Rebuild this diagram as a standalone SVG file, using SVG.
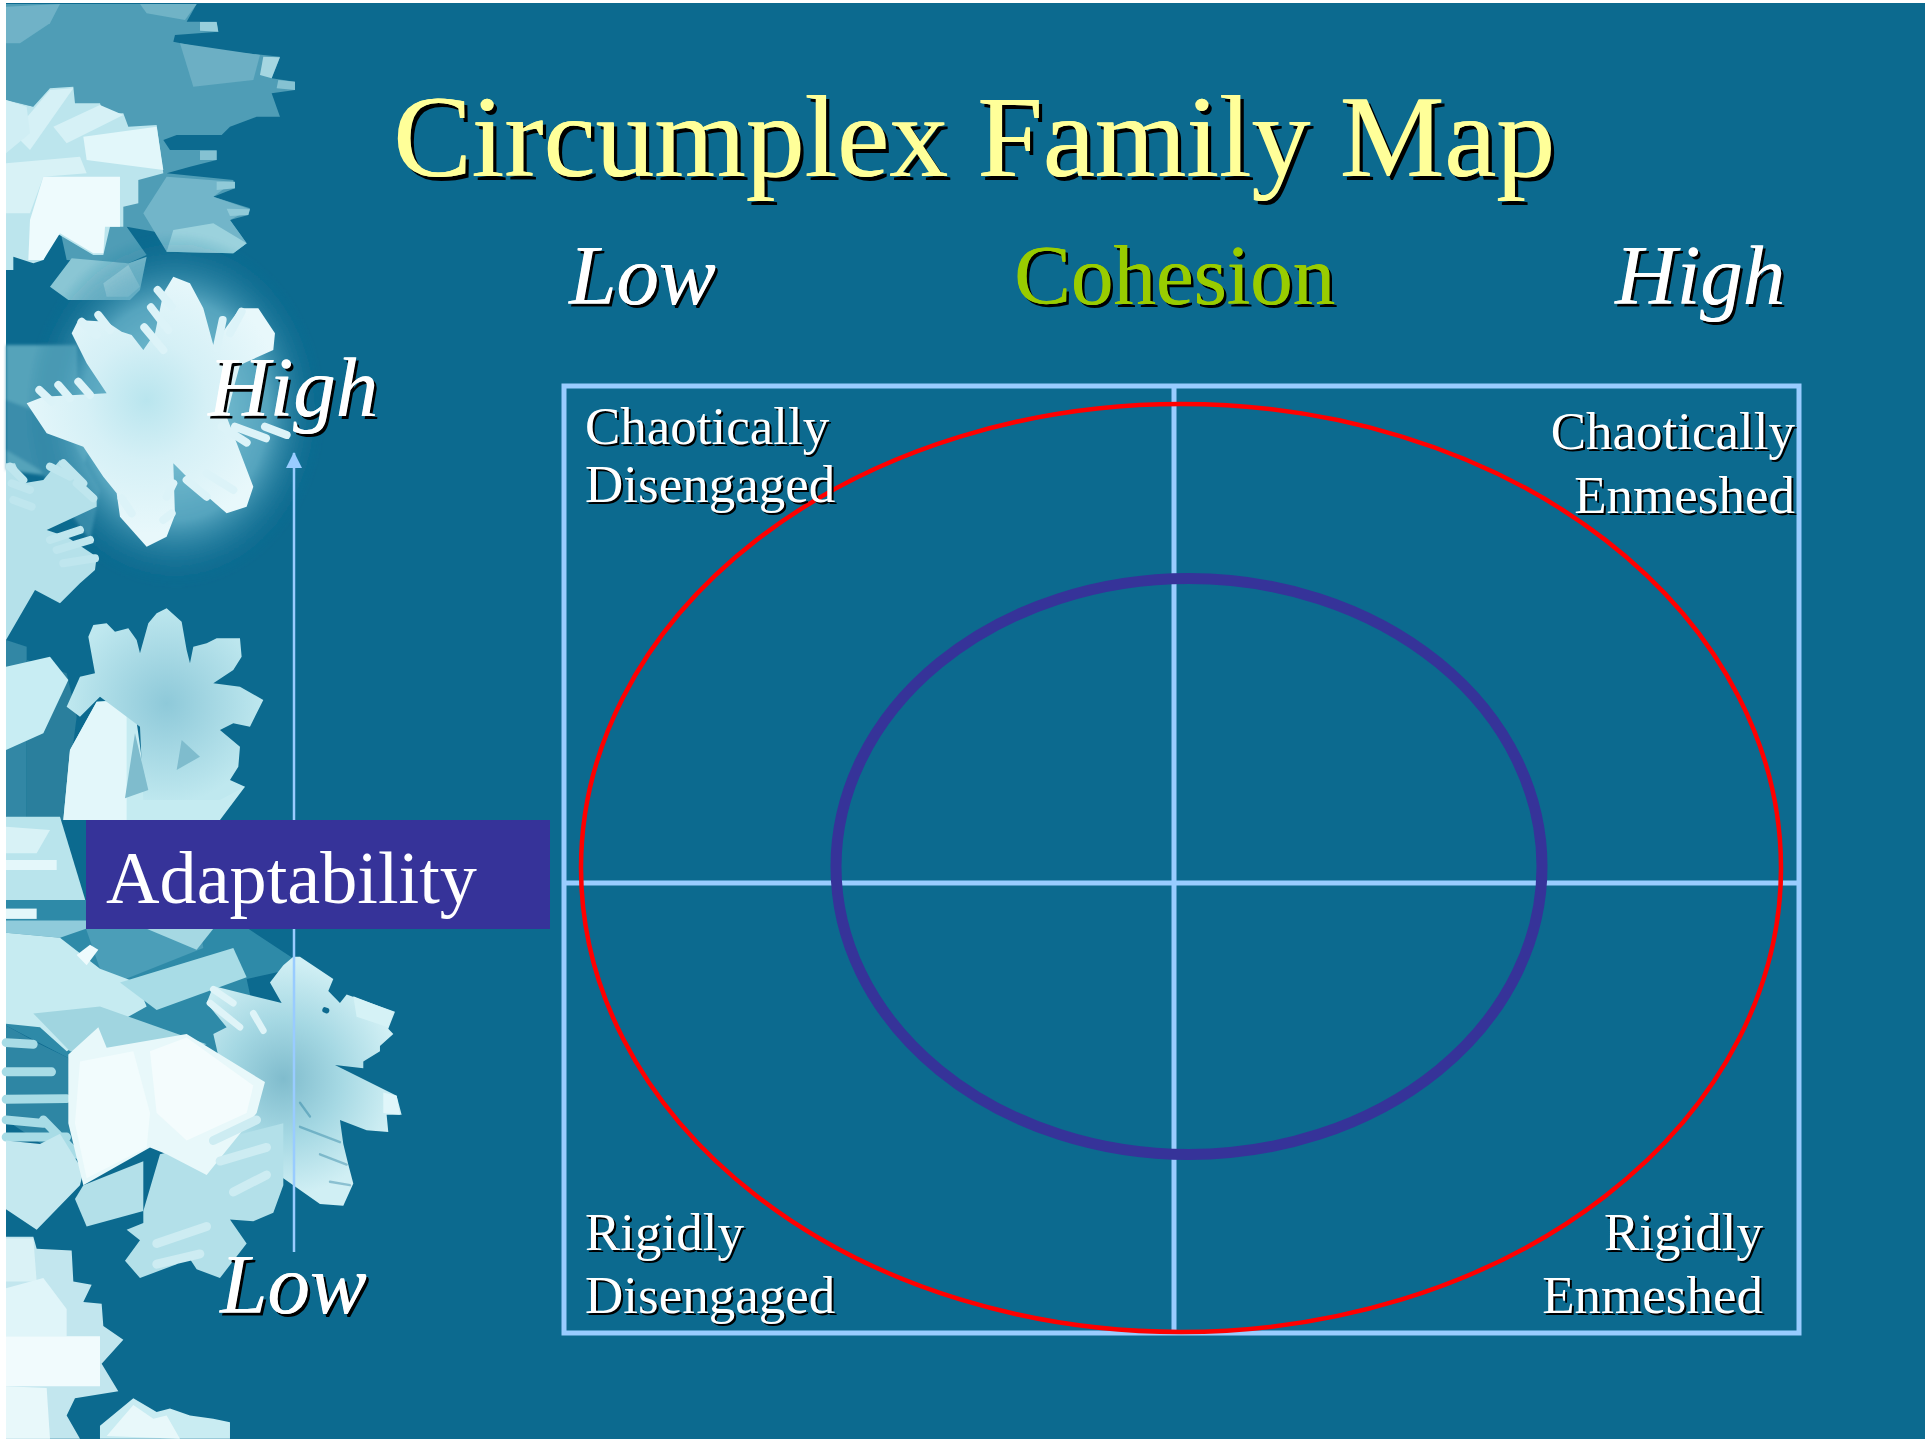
<svg xmlns="http://www.w3.org/2000/svg" xmlns:xlink="http://www.w3.org/1999/xlink" width="1925" height="1439" viewBox="0 0 1925 1439">
<style>
text{font-family:"Liberation Serif","Times New Roman",serif}
.sh1{fill:#ffff99;font-size:117.5px;text-shadow:.7px 0 0 #ffff99,4px 4px 0 #000}
.big{fill:#fff;font-size:85px;font-style:italic;text-shadow:.5px 0 0 #fff,3px 3px 0 #000}
.coh{fill:#99cc00;font-size:85px;text-shadow:.5px 0 0 #99cc00,3px 3px 0 #000}
.sm{fill:#fff;font-size:53px;text-shadow:2px 2px 0 #000}
.ad{fill:#fff;font-size:74.2px}
.grid{fill:none;stroke:#99ccff;stroke-width:5}
.arr{fill:none;stroke:#99ccff;stroke-width:2.5}
.bar{fill:none;stroke-linecap:round}
</style>
<defs>
<radialGradient id="glow"><stop offset="0" stop-color="#8fd0df"/><stop offset=".62" stop-color="#62aec6" stop-opacity=".85"/><stop offset="1" stop-color="#0c6a8f" stop-opacity="0"/></radialGradient>
<radialGradient id="fl1" gradientUnits="userSpaceOnUse" cx="440" cy="450" r="400"><stop offset="0" stop-color="#b9e5ee"/><stop offset=".45" stop-color="#d5f0f6"/><stop offset="1" stop-color="#e8f8fb"/></radialGradient>
<radialGradient id="fl4" gradientUnits="userSpaceOnUse" cx="850" cy="520" r="340"><stop offset="0" stop-color="#80bccd"/><stop offset=".5" stop-color="#a5d8e3"/><stop offset="1" stop-color="#d0eff4"/></radialGradient>
<radialGradient id="fl2" gradientUnits="userSpaceOnUse" cx="500" cy="430" r="300"><stop offset="0" stop-color="#8ec9d9"/><stop offset="1" stop-color="#bfe8ef"/></radialGradient>
<filter id="soft" x="-5%" y="-5%" width="110%" height="110%"><feGaussianBlur stdDeviation="1.8"/></filter>
<marker id="ah" markerWidth="18" markerHeight="18" refX="15" refY="8" orient="auto" markerUnits="userSpaceOnUse"><path d="M0,0L16,8L0,16Z" fill="#99ccff"/></marker>
</defs>
<rect width="1925" height="1439" fill="#fff"/>
<rect x="6" y="3" width="1919" height="1436" fill="#0c6a8f"/>

<g id="crystals-top" filter="url(#soft)" transform="scale(.3333)">
<polygon points="18,12 590,12 560,65 650,65 655,95 525,105 520,125 640,150 840,170 815,235 885,245 885,270 815,280 840,350 770,350 690,380 665,405 530,405 490,420 510,450 650,450 650,480 570,500 500,520 700,540 705,565 640,590 750,625 745,645 690,660 740,730 700,760 500,755 490,700 380,680 440,765 385,790 200,780 100,320 18,300" fill="#4f9db6"/>
<polygon points="18,20 180,12 150,70 60,130 18,130" fill="#6fb2c7"/>
<polygon points="420,12 590,12 555,60 440,40" fill="#70b3c6"/>
<polygon points="540,130 780,165 760,240 580,260" fill="#6cafc4"/>
<polygon points="500,530 700,545 640,590 750,628 690,660 740,730 700,760 500,755 430,640" fill="#72b5c9"/>
<polygon points="520,690 640,670 740,730 700,760 500,755" fill="#9bd2dd"/>
<polygon points="790,170 840,172 815,235 780,225" fill="#a5d6e1"/>
<polygon points="600,66 650,66 655,95 600,92" fill="#98cfdc"/>
<polygon points="835,240 885,245 885,270 830,265" fill="#85c2d2"/>
<polygon points="600,452 650,452 650,480 600,480" fill="#85c2d2"/>
<polygon points="650,545 705,545 705,565 650,570" fill="#90cad8"/>
<polygon points="680,626 750,628 745,645 690,648" fill="#90cad8"/>
<polygon points="18,300 100,320 150,265 220,260 225,310 300,310 310,340 370,340 385,380 470,375 490,520 415,540 415,610 370,620 370,680 330,680 310,765 280,765 170,700 130,780 100,790 40,770 40,810 18,810" fill="#bce5ed"/>
<polygon points="40,400 150,270 220,265 90,450" fill="#d6f1f6"/>
<polygon points="160,380 300,315 370,345 200,430" fill="#d6f1f6"/>
<polygon points="250,410 470,380 490,510 260,480" fill="#e2f7fa"/>
<polygon points="18,490 240,470 260,520 130,530 90,640 18,640" fill="#d8f2f6"/>
<polygon points="130,530 360,530 360,680 315,680 310,760 280,760 180,700 130,780 85,780 90,660" fill="#eefbfd"/>
<polygon points="18,300 80,320 90,400 18,460" fill="#d0eef4"/>
<polygon points="205,900 150,860 215,775 385,790 440,770 420,870 390,900" fill="#8ac6d4"/>
<polygon points="310,850 385,795 420,860 385,890 320,890" fill="#b5dfe6"/>
</g>

<g id="crystals-middle" filter="url(#soft)">
<polygon points="6,345 77,345 77,383 100,405 80,480 6,470" fill="#55a3ba"/>
<polygon points="6,400 60,420 100,490 90,540 40,470 6,450" fill="#3a8dab"/>
<ellipse cx="175" cy="410" rx="150" ry="178" fill="url(#glow)"/>
</g>

<g id="flake-small" filter="url(#soft)" transform="translate(0,250) scale(.3333)">
<polygon points="18,640 45,640 70,700 130,690 180,630 290,740 290,770 140,840 200,860 290,920 285,960 240,1000 180,1060 105,1020 18,1170" fill="#b5e1ea"/>
<g class="bar" stroke="#bfe6ee" stroke-width="24">
<path d="M30,650L70,690M35,700L90,720M40,750L95,770M150,650L210,680M190,640L250,700M230,700L280,745M150,870L240,840M170,900L270,870M190,940L285,925"/>
</g>
</g>

<g id="flake-main" filter="url(#soft)" transform="translate(0,250) scale(.3333)">
<polygon fill="url(#fl1)" points="235,210 320,215 365,245 395,255 430,300 465,250 490,130 520,80 570,100 610,175 640,285 680,230 720,175 775,175 825,250 820,300 720,345 705,400 680,500 760,710 740,770 680,790 600,720 520,640 525,795 500,860 440,890 360,800 350,730 310,680 250,590 140,550 80,460 130,440 320,430 260,340 215,250"/>
<g class="bar" stroke="#dcf3f8" stroke-width="24">
<path d="M245,215L290,255M295,195L330,240M118,420L155,455M175,405L210,445M235,395L270,435"/>
<path d="M433,232L490,300M453,172L505,240M473,120L515,170M668,210L650,295M725,185L690,250"/>
<path d="M665,530L740,578M705,530L798,565M795,530L860,555M560,690L620,740M620,670L700,720"/>
<path d="M365,745L395,790M520,700L500,740M515,790L490,810"/>
</g>
</g>

<g id="crystals-mid" filter="url(#soft)" transform="translate(0,560) scale(.3333)">
<polygon points="18,240 80,260 80,780 18,770" fill="#3187a5"/>
<polygon points="80,300 200,340 230,470 190,780 80,780" fill="#2a7f9d"/>
<polygon points="18,320 150,290 205,360 130,520 18,570" fill="#c8edf3"/>
<polygon points="190,780 210,570 290,425 400,415 440,700 735,680 660,780" fill="#c5ebf1"/>
<polygon points="210,570 290,425 380,425 380,780 190,780" fill="#e3f7fa"/>
<polygon fill="url(#fl2)" points="265,230 280,195 320,190 345,215 385,205 410,240 420,280 445,190 470,160 500,145 545,185 560,270 570,310 580,260 620,250 650,235 720,235 725,290 700,330 640,370 720,380 790,420 750,500 700,490 660,510 720,560 715,620 690,660 735,680 660,720 430,720 420,500 300,410 240,470 200,440 240,350 285,340"/>
<polygon points="405,520 375,715 445,690" fill="#7fbccd"/>
<polygon points="545,540 530,630 600,590" fill="#7fbccd"/>
<polygon points="18,770 180,770 262,1040 18,1040" fill="#b9e4ec"/>
<polygon points="18,800 150,810 110,880 18,880" fill="#d8f2f6"/>
<polygon points="18,900 170,900 170,930 18,930" fill="#e4f7fa"/>
</g>

<g id="crystals-lower" filter="url(#soft)" transform="translate(0,900) scale(.3333,.3436)">
<polygon points="18,0 258,0 258,84 745,84 880,170 880,200 740,230 800,500 420,640 205,460 18,365" fill="#2f8aa8"/>
<polygon points="258,84 600,84 610,140 350,240 300,200" fill="#4b9eb8"/>
<polygon points="440,84 640,84 590,145" fill="#a5d8e3"/>
<polygon points="18,25 110,25 110,55 18,55" fill="#e4f7fa"/>
<polygon points="18,60 258,60 258,84 180,110 18,95" fill="#8fcbdb"/>
<polygon points="18,95 180,110 300,200 410,240 440,310 200,440 120,370 18,360" fill="#c6ebf1"/>
<polygon points="230,160 270,130 295,145 260,190" fill="#eefbfd"/>
<polygon points="360,240 700,140 740,225 470,320" fill="#a8dce6"/>
<polygon points="100,330 300,310 620,420 400,470 210,440" fill="#a0d5e0"/>
<polygon points="18,365 120,420 205,460 240,790 110,700 18,640" fill="#2f86a4"/>
<path class="bar" d="M18,415L100,420M18,500L155,500M18,580L200,578M18,640L130,650M18,690L200,690M130,640L230,740" stroke="#a8dce6" stroke-width="26"/>
<polygon points="18,700 120,710 180,680 250,790 240,830 110,960 18,900" fill="#c4e8ef"/>
<polygon fill="url(#fl4)" points="880,165 900,165 1000,230 985,265 1020,300 1040,275 1185,325 1165,375 1180,390 1140,425 1140,440 1090,470 1090,490 1005,480 1190,570 1205,625 1160,625 1165,675 1100,670 1020,640 1030,710 1045,770 1060,825 1030,890 960,885 850,810 780,830 620,800 680,560 640,390 680,370 620,300 640,250 845,300 810,240 850,190"/>
<polygon fill="#b3e0e9" points="430,905 480,740 850,650 850,830 820,910 760,935 690,930 740,1000 660,1100 590,1075 560,1030 530,1060 420,1100 375,1050 420,990 380,960 430,940"/>
<polygon fill="#b3e0e9" points="250,830 430,760 430,905 260,950 225,870"/>
<polygon fill="#e8f8fa" points="205,450 295,370 320,430 560,390 795,530 770,620 620,800 500,740 450,720 250,830 205,650"/>
<polygon fill="#f2fcfd" points="240,470 400,440 450,620 440,720 260,810 225,650"/>
<polygon fill="#f4fcfd" points="450,440 560,400 760,540 740,620 560,700 470,620"/>
<path class="bar" d="M640,700L770,640M660,760L800,720M700,850L800,800M470,1000L620,950M470,1060L600,1030" stroke="#cdecf2" stroke-width="26"/>
<path class="bar" d="M900,590L930,630M900,660L1020,705M960,740L1040,770M990,820L1050,830" stroke="#0c6a8f" stroke-opacity=".35" stroke-width="7"/>
<path class="bar" d="M640,260L700,300M630,300L720,370M760,330L790,380" stroke="#dff4f8" stroke-width="20"/>
<path class="bar" d="M975,320L980,322" stroke="#0c6a8f" stroke-width="16"/>
<polygon points="1060,280 1180,325 1165,370 1070,340" fill="#d5f2f6"/>
<polygon points="1150,560 1190,570 1200,625 1150,620" fill="#e0f6fa"/>
<polygon points="18,980 100,980 110,1015 215,1020 220,1110 275,1120 250,1170 305,1175 310,1240 370,1280 305,1350 355,1430 225,1450 200,1500 240,1568 18,1568" fill="#c2e6ee"/>
<polygon points="18,985 100,985 110,1110 18,1110" fill="#daf2f6"/>
<polygon points="18,1130 130,1100 200,1190 200,1270 18,1270" fill="#e0f5f9"/>
<polygon points="18,1270 300,1270 300,1415 18,1415" fill="#f1fbfd"/>
<polygon points="18,1415 140,1420 150,1568 18,1568" fill="#e8f8fa"/>
<polygon points="300,1530 400,1450 470,1490 510,1480 570,1500 640,1510 690,1520 690,1568 300,1568" fill="#c9ecf2"/>
<polygon points="320,1560 400,1470 460,1510 500,1500 540,1568" fill="#e8f8fa"/>
</g>

<g id="connectors">
<line class="arr" x1="294" y1="1252" x2="294" y2="453" marker-end="url(#ah)"/>
</g>
<g id="grid">
<rect class="grid" x="564" y="386" width="1235" height="947"/>
<line class="grid" x1="1174" y1="386" x2="1174" y2="1333"/>
<line class="grid" x1="564" y1="883" x2="1799" y2="883"/>
</g>
<g id="ellipses">
<ellipse id="outer" cx="1181" cy="868" rx="600" ry="464" fill="none" stroke="#f00" stroke-width="4.5"/>
<ellipse id="inner" cx="1189" cy="866.5" rx="353" ry="288" fill="none" stroke="#363399" stroke-width="11"/>
</g>
<g id="title"><text class="sh1" x="393" y="176">Circumplex Family Map</text></g>
<g id="axis-top">
<text class="big" x="569" y="304">Low</text>
<text class="coh" x="1014" y="304">Cohesion</text>
<text class="big" x="1615" y="304">High</text>
</g>
<g id="axis-left">
<text class="big" x="208" y="416">High</text>
<text class="big" x="220" y="1313">Low</text>
<rect x="86" y="820" width="464" height="109" fill="#363399"/>
<text class="ad" x="106" y="903">Adaptability</text>
</g>
<g id="quadrants">
<text class="sm" x="585" y="444">Chaotically</text>
<text class="sm" x="585" y="502">Disengaged</text>
<text class="sm" text-anchor="end" x="1795" y="449">Chaotically</text>
<text class="sm" text-anchor="end" x="1795" y="513">Enmeshed</text>
<text class="sm" x="585" y="1250">Rigidly</text>
<text class="sm" x="585" y="1313">Disengaged</text>
<text class="sm" text-anchor="end" x="1763" y="1250">Rigidly</text>
<text class="sm" text-anchor="end" x="1763" y="1313">Enmeshed</text>
</g>
</svg>
